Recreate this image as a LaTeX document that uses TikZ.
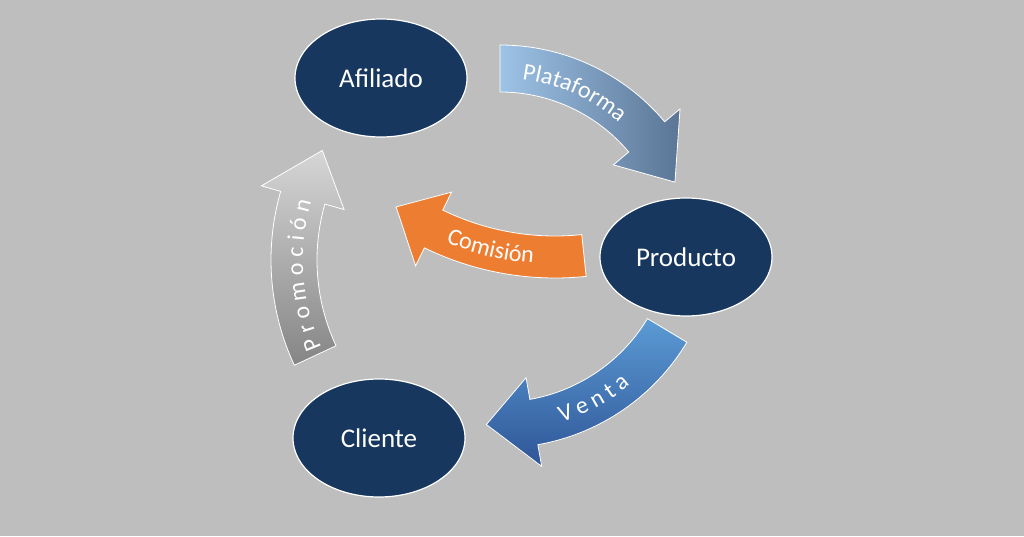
\documentclass[tikz,border=0pt]{standalone}
\usepackage{fontspec}
\setmainfont{Carlito}
\usetikzlibrary{shapes.geometric, calc, decorations.text}

\definecolor{bggray}{HTML}{BEBEBE}
\definecolor{navy}{HTML}{17375E}
\definecolor{orangec}{HTML}{ED7D31}
\definecolor{plalight}{HTML}{9DC3E6}
\definecolor{pladark}{HTML}{5B7595}
\definecolor{venlight}{HTML}{5B9BD5}
\definecolor{vendark}{HTML}{2F5597}
\definecolor{prolight}{HTML}{D6D6D6}
\definecolor{prodark}{HTML}{858585}

% curved band arrow: options, centre, inner r, outer r, tail angle, barb angle, tip angle, barb extra
\newcommand\bandarrow[8]{%
  \path[#1] ($(#2)+(#5:#4pt)$) arc[start angle=#5, end angle=#6, radius=#4pt]
    -- ($(#2)+(#6:{(#4+#8)*1pt})$) -- ($(#2)+(#7:{(#3+#4)/2*1pt})$)
    -- ($(#2)+(#6:{(#3-#8)*1pt})$) -- ($(#2)+(#6:#3pt)$)
    arc[start angle=#6, end angle=#5, radius=#3pt] -- cycle;}
\newcommand\arclabel[5]{% centre, radius, from, to, text
  \path[decorate, decoration={text along path, text align=center,
    text={|\fontsize{24}{24}\selectfont\color{white}|#5}}]
    ($(#1)+(#3:#2pt)$) arc[start angle=#3, end angle=#4, radius=#2pt];}

\begin{document}
\begin{tikzpicture}[x=1pt, y=1pt,
    actor/.style={ellipse, fill=navy, draw=white, line width=1.2pt,
      minimum width=172pt, minimum height=118pt, text=white,
      font=\fontsize{27}{27}\selectfont},
    band/.style={draw=white, line width=0.8pt}]
  \useasboundingbox[fill=bggray] (0,0) rectangle (1024,536);

  % centres of the arcs (y measured upwards)
  \coordinate (cPla) at (500,276);
  \coordinate (cCom) at (555,556);
  \coordinate (cPro) at (520,276);
  \coordinate (cVen) at (500,306);

  \bandarrow{band, left color=plalight, right color=pladark}{cPla}{168}{215}{90}{40}{24}{20}
  \bandarrow{band, fill=orangec}{cCom}{256}{298}{-84}{-116}{-125}{20}
  \bandarrow{band, top color=prolight, bottom color=prodark}{cPro}{203}{249}{205}{164}{151}{20}
  \bandarrow{band, top color=venlight, bottom color=vendark}{cVen}{172}{218}{-31}{-80}{-94}{22}

  \arclabel{cPla}{182}{88}{44}{Plataforma}
  \arclabel{cCom}{284}{-121}{-86}{Comisión}
  \arclabel{cPro}{217}{204}{164}{P r o m o c i ó n}
  \arclabel{cVen}{202}{-84}{-38}{V e n t a}

  \node[actor] (afiliado) at (381,458) {Afiliado};
  \node[actor] (producto) at (686,279) {Producto};
  \node[actor] (cliente) at (379,98) {Cliente};
\end{tikzpicture}
\end{document}
